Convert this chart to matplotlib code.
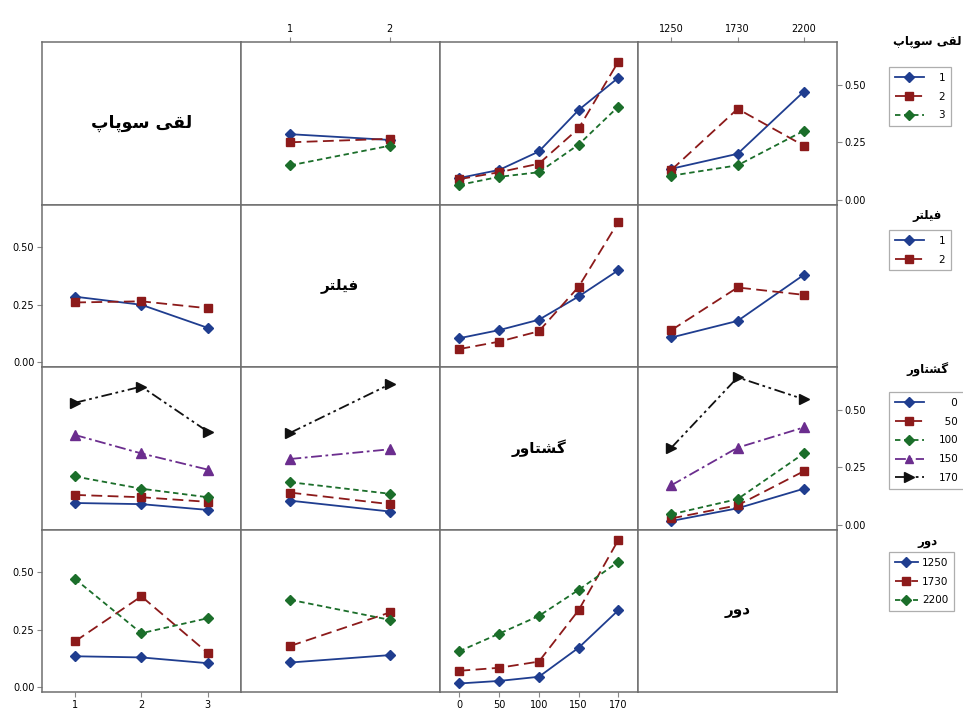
import numpy as np
import matplotlib
matplotlib.use('Agg')
import matplotlib.pyplot as plt
from matplotlib.lines import Line2D

plt.rcParams['font.family'] = ['DejaVu Sans']

# factor names (Persian) and levels
names = ['لقی سوپاپ', 'فیلتر', 'گشتاور', 'دور']
lqi_levels = ['1', '2', '3']
filter_levels = ['1', '2']
torque_levels = ['0', '50', '100', '150', '170']
speed_levels = ['1250', '1730', '2200']
levels = [lqi_levels, filter_levels, torque_levels, speed_levels]

# mean response for each pair of factors: rows = first factor, cols = second factor
lqi_filter = [[0.285, 0.26], [0.25, 0.265], [0.15, 0.235]]
lqi_torque = [[0.095, 0.13, 0.21, 0.39, 0.53],
              [0.09, 0.12, 0.157, 0.31, 0.60],
              [0.065, 0.10, 0.12, 0.24, 0.405]]
lqi_speed = [[0.135, 0.20, 0.47], [0.13, 0.395, 0.235], [0.105, 0.15, 0.30]]
filter_torque = [[0.105, 0.14, 0.185, 0.286, 0.40],
                 [0.058, 0.09, 0.135, 0.328, 0.61]]
filter_speed = [[0.108, 0.18, 0.38], [0.14, 0.325, 0.293]]
torque_speed = [[0.017, 0.072, 0.157], [0.028, 0.085, 0.233], [0.046, 0.112, 0.31],
                [0.172, 0.335, 0.423], [0.335, 0.64, 0.545]]
tables = {(0, 1): lqi_filter, (0, 2): lqi_torque, (0, 3): lqi_speed,
          (1, 2): filter_torque, (1, 3): filter_speed, (2, 3): torque_speed}

COLORS = ['#1f3d8f', '#8c1a1a', '#1b6e2a', '#6b2d8e', '#111111']
MARKERS = ['D', 's', 'D', '^', '>']
DASHES = [(None, None), (6, 3), (3, 2), (6, 2, 1.5, 2), (6, 2, 1.5, 2, 1.5, 2)]
MS = [5.2, 6, 5.2, 6.5, 7]

# minimal Persian shaping (presentation forms, visual order)
FORMS = {
    'ا': ('\uFE8D', '\uFE8E', None, None), 'د': ('\uFEA9', '\uFEAA', None, None),
    'ر': ('\uFEAD', '\uFEAE', None, None), 'و': ('\uFEED', '\uFEEE', None, None),
    'ل': ('\uFEDD', '\uFEDE', '\uFEDF', '\uFEE0'), 'ق': ('\uFED5', '\uFED6', '\uFED7', '\uFED8'),
    'س': ('\uFEB1', '\uFEB2', '\uFEB3', '\uFEB4'), 'ش': ('\uFEB5', '\uFEB6', '\uFEB7', '\uFEB8'),
    'ف': ('\uFED1', '\uFED2', '\uFED3', '\uFED4'), 'ت': ('\uFE95', '\uFE96', '\uFE97', '\uFE98'),
    'پ': ('\uFB56', '\uFB57', '\uFB58', '\uFB59'), 'گ': ('\uFB92', '\uFB93', '\uFB94', '\uFB95'),
    'ی': ('\uFBFC', '\uFBFD', '\uFBFE', '\uFBFF'),
}


def shape(s):
    out = []
    for i, ch in enumerate(s):
        if ch not in FORMS:
            out.append(ch)
            continue
        prev = s[i - 1] if i > 0 else ''
        nxt = s[i + 1] if i + 1 < len(s) else ''
        jp = prev in FORMS and FORMS[prev][2] is not None
        jn = nxt in FORMS and FORMS[ch][2] is not None
        iso, fin, ini, med = FORMS[ch]
        out.append(med if (jp and jn) else fin if jp else ini if jn else iso)
    return ''.join(reversed(out))


def style(line, k):
    if DASHES[k][0] is not None:
        line.set_dashes(DASHES[k])


W, H = 963, 720
fig = plt.figure(figsize=(W / 100, H / 100), dpi=100)
gs = fig.add_gridspec(4, 4, left=42 / W, right=837 / W, top=1 - 42 / H, bottom=1 - 692 / H,
                      wspace=0, hspace=0)
SP = '#6f6f6f'

for i in range(4):
    for j in range(4):
        ax = fig.add_subplot(gs[i, j])
        nx = len(levels[j])
        ax.set_xlim(0.5, nx + 0.5)
        ax.set_ylim(-0.02, 0.685)
        for s in ax.spines.values():
            s.set_color(SP)
            s.set_linewidth(1.1)
        ax.tick_params(left=False, bottom=False, labelleft=False, labelbottom=False,
                       length=3.5, color='#888888', labelsize=7, pad=2)
        ax.set_xticks(np.arange(1, nx + 1))
        ax.set_xticklabels(levels[j])
        ax.set_yticks([0, 0.25, 0.5])
        ax.set_yticklabels(['0.00', '0.25', '0.50'])
        if i == j:
            ax.text(0.5, 0.5, shape(names[i]), ha='center', va='center', transform=ax.transAxes,
                    fontsize=12.5 if i == 0 else 11, fontweight='bold')
        else:
            if i < j:
                T = tables[(i, j)]
                series = [row for row in T]
            else:
                T = tables[(j, i)]
                series = [[row[k] for row in T] for k in range(len(levels[i]))]
            x = np.arange(1, nx + 1)
            for k, ys in enumerate(series):
                ln, = ax.plot(x, ys, color=COLORS[k], lw=1.3, marker=MARKERS[k], ms=MS[k],
                              markeredgecolor=COLORS[k])
                style(ln, k)
        # outer tick labels
        if j == 0 and i in (1, 3):
            ax.tick_params(left=True, labelleft=True)
        if j == 3 and i in (0, 2):
            ax.tick_params(right=True, labelright=True)
        if i == 3 and j in (0, 2):
            ax.tick_params(bottom=True, labelbottom=True)
        if i == 0 and j in (1, 3):
            ax.tick_params(top=True, labeltop=True)

# legends at the right, one per row
leg_tops = [67, 230, 392, 552]
title_y = [42, 215, 370, 542]
for i in range(4):
    labs = levels[i]
    width = max(len(l) for l in labs)
    labs = [l.rjust(width, '\u2007') for l in labs]
    handles = []
    for k in range(len(labs)):
        h = Line2D([], [], color=COLORS[k], lw=1.3, marker=MARKERS[k], ms=MS[k] - 0.5)
        style(h, k)
        handles.append(h)
    leg = fig.legend(handles, labs, loc='upper left', bbox_to_anchor=(889 / W, 1 - leg_tops[i] / H),
                     frameon=True, fancybox=False, edgecolor='#9a9a9a', fontsize=7.5,
                     handlelength=2.8 if i < 3 else 2.2, handletextpad=1.4 if i < 3 else 0.4,
                     labelspacing=0.85, borderpad=0.55, borderaxespad=0)
    leg.get_frame().set_linewidth(0.9)
    fig.text(927 / W, 1 - title_y[i] / H, shape(names[i]), ha='center', va='center',
             fontsize=8.5, fontweight='bold')

fig.savefig('out.png', dpi=100)
